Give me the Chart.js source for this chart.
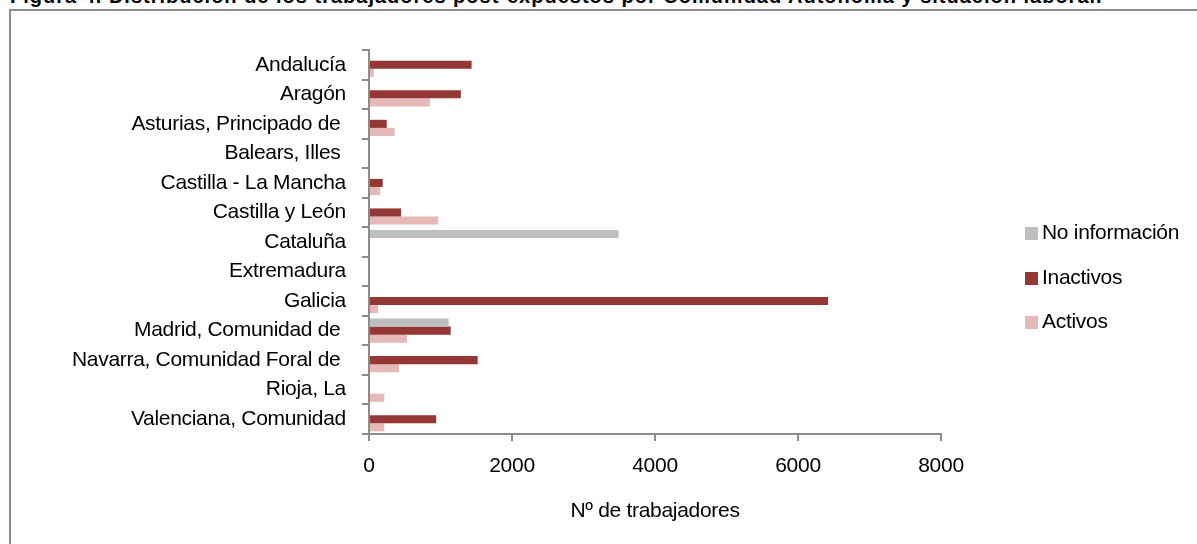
<!DOCTYPE html>
<html>
<head>
<meta charset="utf-8">
<script src="https://cdn.jsdelivr.net/npm/chart.js@4/dist/chart.umd.min.js"></script>
<style>
  html, body { margin: 0; padding: 0; background: #fff; overflow: hidden; }
  #wrap { position: relative; width: 1197px; height: 544px; overflow: hidden; }
  #frame { position: absolute; left: 9px; top: 9px; width: 1300px; height: 700px;
           border-left: 2px solid #8c8c8c; border-top: 2px solid #8c8c8c; }
  #title { position: absolute; left: 10px; top: -15px; white-space: nowrap;
           font: bold 20px 'Liberation Sans', Arial, sans-serif;
           letter-spacing: 1px; color: #000; }
  canvas { position: absolute; left: 0; top: 0; }
</style>
</head>
<body>
<div id="wrap">
  <div id="frame"></div>
  <div id="title">Figura 4. Distribución de los trabajadores post-expuestos por Comunidad Autónoma y situación laboral.</div>
  <canvas id="c" width="1197" height="544"></canvas>
</div>
<script>
const categories = [
  'Andalucía',
  'Aragón',
  'Asturias, Principado de ',
  'Balears, Illes ',
  'Castilla - La Mancha',
  'Castilla y León',
  'Cataluña',
  'Extremadura',
  'Galicia',
  'Madrid, Comunidad de ',
  'Navarra, Comunidad Foral de ',
  'Rioja, La',
  'Valenciana, Comunidad'
];
const seriesNames = ['No información', 'Inactivos', 'Activos'];
const noInformacion = [0, 0, 0, 0, 0, 0, 3490, 0, 0, 1115, 0, 0, 0];
const inactivos = [1435, 1285, 248, 0, 192, 448, 0, 0, 6420, 1143, 1520, 0, 940];
const activos = [66, 852, 359, 0, 158, 968, 0, 0, 126, 531, 420, 214, 214];
const xTicks = [0, 2000, 4000, 6000, 8000];
const xTickLabels = ['0', '2000', '4000', '6000', '8000'];
const axisTitle = 'Nº de trabajadores';

const colors = ['#BFBFBF', '#953735', '#E6B9B8'];
const FONT = "'Liberation Sans', Arial, sans-serif";
const FSIZE = 21;
const SPACING = '-0.3px';

const spacingPlugin = {
  id: 'spacing',
  beforeInit(chart) { chart.ctx.letterSpacing = SPACING; },
  beforeLayout(chart) { chart.ctx.letterSpacing = SPACING; },
  beforeDraw(chart) { chart.ctx.letterSpacing = SPACING; }
};

const legendPlugin = {
  id: 'customLegend',
  afterDraw(chart) {
    const ctx = chart.ctx;
    ctx.save();
    ctx.letterSpacing = SPACING;
    ctx.font = FSIZE + 'px ' + FONT;
    ctx.textBaseline = 'middle';
    ctx.textAlign = 'left';
    const ys = [233.5, 278.5, 322.5];
    chart.data.datasets.forEach((ds, i) => {
      ctx.fillStyle = ds.backgroundColor;
      ctx.fillRect(1025, ys[i] - 6.5, 13, 13);
      ctx.fillStyle = '#000';
      ctx.fillText(ds.label, 1042, ys[i]);
    });
    ctx.restore();
  }
};

const datasets = [noInformacion, inactivos, activos].map((d, i) => ({
  label: seriesNames[i],
  data: d,
  backgroundColor: colors[i],
  borderWidth: 0,
  categoryPercentage: 0.82,
  barPercentage: 1.0
}));

new Chart(document.getElementById('c'), {
  type: 'bar',
  data: { labels: categories, datasets },
  options: {
    indexAxis: 'y',
    responsive: false,
    animation: false,
    devicePixelRatio: 1,
    layout: { padding: { top: 50, left: 12, right: 256, bottom: 0 } },
    plugins: {
      legend: { display: false },
      tooltip: { enabled: false },
      title: { display: false }
    },
    scales: {
      y: {
        type: 'category',
        offset: true,
        grid: { display: true, drawOnChartArea: false, drawTicks: true, tickLength: 7,
                offset: true, color: '#8c8c8c', lineWidth: 2 },
        border: { display: true, color: '#8c8c8c', width: 2 },
        ticks: { color: '#000', font: { family: FONT, size: FSIZE }, padding: 16, autoSkip: false },
        afterFit(scale) { scale.width = 357; }
      },
      x: {
        min: 0, max: 8000,
        afterBuildTicks(scale) { scale.ticks = xTicks.map(v => ({ value: v })); },
        grid: { display: true, drawOnChartArea: false, drawTicks: true, tickLength: 7,
                color: '#8c8c8c', lineWidth: 2 },
        border: { display: true, color: '#8c8c8c', width: 2 },
        ticks: { color: '#000', font: { family: FONT, size: FSIZE }, padding: 13, maxRotation: 0,
                 callback: (v) => xTickLabels[xTicks.indexOf(v)] },
        title: { display: true, text: axisTitle, color: '#000',
                 font: { family: FONT, size: FSIZE }, padding: { top: 0, bottom: 20 } },
        afterFit(scale) { scale.height = 110; }
      }
    }
  },
  plugins: [spacingPlugin, legendPlugin]
});
</script>
</body>
</html>
